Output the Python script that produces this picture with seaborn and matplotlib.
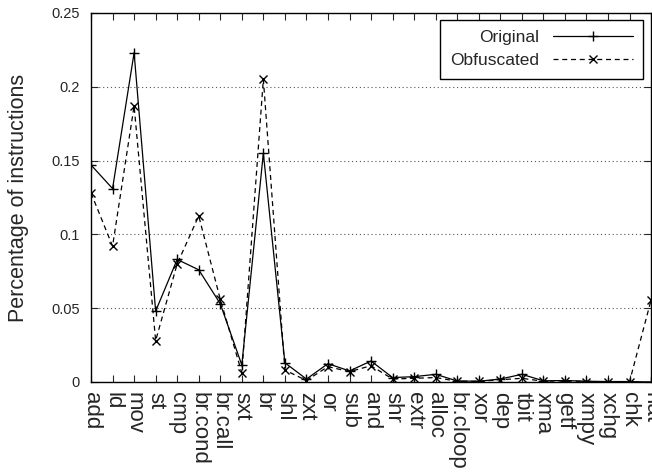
import matplotlib
matplotlib.use("Agg")
import matplotlib.pyplot as plt
import seaborn as sns
import pandas as pd

instructions = ["add", "ld", "mov", "st", "cmp", "br.cond", "br.call", "sxt", "br",
                "shl", "zxt", "or", "sub", "and", "shr", "extr", "alloc", "br.cloop",
                "xor", "dep", "tbit", "xma", "getf", "xmpy", "xchg", "chk", "nat"]
original = [0.147, 0.131, 0.223, 0.048, 0.083, 0.076, 0.053, 0.0115, 0.155,
            0.013, 0.002, 0.0124, 0.0075, 0.0142, 0.003, 0.0036, 0.0052, 0.0007,
            0.0005, 0.002, 0.0052, 0.0008, 0.001, 0.0005, 0.0003, 0.0003, 0.0]
obfuscated = [0.128, 0.092, 0.187, 0.028, 0.080, 0.1125, 0.056, 0.0063, 0.205,
              0.0081, 0.001, 0.0104, 0.007, 0.011, 0.002, 0.0025, 0.003, 0.0005,
              0.0004, 0.0015, 0.0025, 0.0005, 0.0008, 0.0003, 0.0002, 0.0002, 0.0556]

df = pd.DataFrame({"instr": instructions, "Original": original, "Obfuscated": obfuscated})

sns.set_style("ticks")
plt.rcParams["font.family"] = ["Liberation Sans", "DejaVu Sans"]

fig = plt.figure(figsize=(6.52, 4.72), dpi=100)
ax = fig.add_axes([0.1396, 0.1907, 0.859, 0.782])

sns.lineplot(data=df, x="instr", y="Original", ax=ax, sort=False, color="black",
             lw=0.9, marker="+", markersize=7, mew=1, mec="black", label="Original")
sns.lineplot(data=df, x="instr", y="Obfuscated", ax=ax, sort=False, color="black",
             lw=0.9, ls=(0, (4, 3)), marker="x", markersize=6, mew=1, mec="black",
             label="Obfuscated")

ax.set_xlim(0, len(instructions) - 1)
ax.set_ylim(0, 0.25)
ax.set_yticks([0, 0.05, 0.1, 0.15, 0.2, 0.25])
ax.set_yticklabels(["0", "0.05", "0.1", "0.15", "0.2", "0.25"], fontsize=10.5)
ax.set_xticks(range(len(instructions)))
ax.set_xticklabels(instructions, rotation=-90, fontsize=16, va="top", ha="center")
ax.set_xlabel("")
ax.set_ylabel("Percentage of instructions", fontsize=15.5, labelpad=16)
ax.yaxis.grid(True, linestyle=(0, (1, 2.5)), color="#555555", lw=0.8)
ax.tick_params(direction="in", top=True, right=True, length=5, width=0.8)
ax.tick_params(axis="y", pad=8)
ax.tick_params(axis="x", pad=7)
for s in ax.spines.values():
    s.set_linewidth(1.0)
    s.set_color("black")

leg = ax.legend(loc="upper right", markerfirst=False, fontsize=12.5, handlelength=4.6,
                fancybox=False, framealpha=1, edgecolor="black", borderaxespad=0,
                borderpad=0.6, labelspacing=0.45, bbox_to_anchor=(0.986, 0.981))
leg.get_frame().set_linewidth(1.0)
# right-align the legend texts like gnuplot does
for col in leg._legend_handle_box.get_children():
    col.align = "right"

fig.savefig("out.png", dpi=100)
